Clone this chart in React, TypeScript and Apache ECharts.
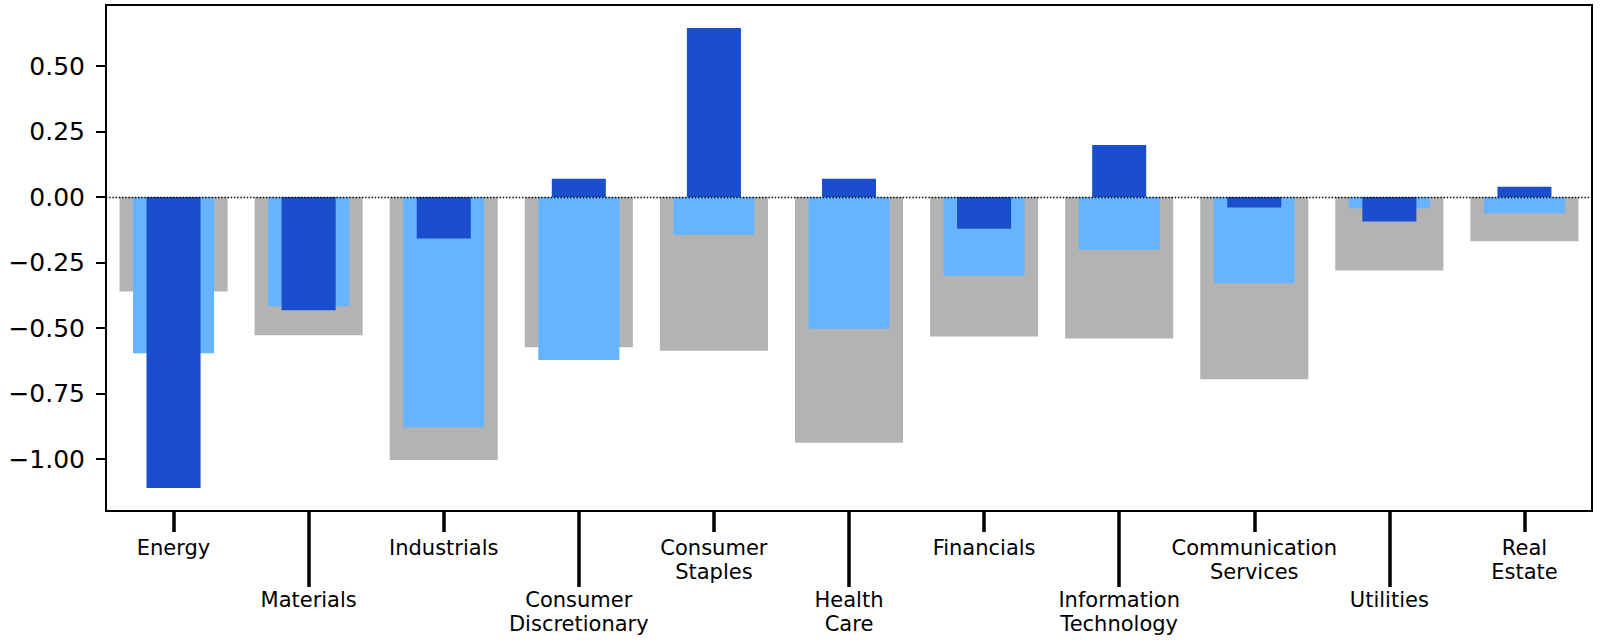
import React, { useEffect, useRef } from "react";
import * as echarts from "echarts";

// Sector labels (line breaks as printed under the axis)
const categories: string[] = [
  "Energy",
  "Materials",
  "Industrials",
  "Consumer\nDiscretionary",
  "Consumer\nStaples",
  "Health\nCare",
  "Financials",
  "Information\nTechnology",
  "Communication\nServices",
  "Utilities",
  "Real\nEstate",
];

// Wide grey bars
const greyValues: number[] = [-0.36, -0.527, -1.003, -0.573, -0.586, -0.937, -0.532, -0.54, -0.695, -0.28, -0.169];
// Medium light-blue bars
const lightValues: number[] = [-0.596, -0.417, -0.878, -0.622, -0.144, -0.502, -0.3, -0.201, -0.329, -0.043, -0.062];
// Narrow dark-blue bars
const darkValues: number[] = [-1.11, -0.432, -0.158, 0.07, 0.645, 0.07, -0.121, 0.199, -0.04, -0.093, 0.039];

// Y tick positions
const yTicks: number[] = [-1, -0.75, -0.5, -0.25, 0, 0.25, 0.5];

const FONT = "DejaVu Sans";

export default function App() {
  const ref = useRef<HTMLDivElement>(null);

  useEffect(() => {
    if (!ref.current) return;
    const chart = echarts.init(ref.current, undefined, { renderer: "svg" });

    const allVals = [...greyValues, ...lightValues, ...darkValues];
    const lo = Math.min(...allVals);
    const hi = Math.max(...allVals);
    const pad = (hi - lo) * 0.05;

    const baseAxis = () => ({
      type: "category" as const,
      gridIndex: 0,
      data: categories,
      boundaryGap: true,
      position: "bottom" as const,
      axisLine: { show: false, onZero: false },
      axisTick: { show: false },
      axisLabel: { show: false },
      splitLine: { show: false },
    });

    const labelStyle = {
      show: true,
      fontFamily: FONT,
      fontSize: 21,
      lineHeight: 24,
      color: "#000",
      verticalAlign: "top" as const,
    };

    const xAxes = [
      {
        ...baseAxis(),
        axisTick: {
          show: true,
          alignWithLabel: true,
          length: 21,
          interval: (i: number) => i % 2 === 0,
          lineStyle: { color: "#000", width: 3.5 },
        },
        axisLabel: { ...labelStyle, interval: (i: number) => i % 2 === 0, margin: 25 },
      },
      {
        ...baseAxis(),
        axisTick: {
          show: true,
          alignWithLabel: true,
          length: 76,
          interval: (i: number) => i % 2 === 1,
          lineStyle: { color: "#000", width: 3.5 },
        },
        axisLabel: { ...labelStyle, interval: (i: number) => i % 2 === 1, margin: 77 },
      },
      baseAxis(),
    ];

    chart.setOption({
      animation: false,
      backgroundColor: "#fff",
      grid: {
        left: 106,
        top: 5,
        right: 9,
        bottom: 132,
        show: true,
        borderColor: "#000",
        borderWidth: 2,
        backgroundColor: "transparent",
        containLabel: false,
      },
      xAxis: xAxes,
      yAxis: {
        type: "value",
        min: lo - pad,
        max: hi + pad,
        splitLine: { show: false },
        axisLine: { show: true, onZero: false, lineStyle: { color: "#000", width: 2 } },
        axisTick: {
          show: true,
          length: 10,
          lineStyle: { color: "#000", width: 2 },
          customValues: yTicks,
        },
        axisLabel: {
          customValues: yTicks,
          margin: 21,
          fontFamily: FONT,
          fontSize: 25,
          color: "#000",
          formatter: (v: number) => v.toFixed(2).replace("-", "\u2212"),
        },
      },
      series: [
        {
          type: "bar",
          xAxisIndex: 0,
          data: greyValues,
          barWidth: "80%",
          itemStyle: { color: "#b3b3b3" },
          z: 2,
        },
        {
          type: "bar",
          xAxisIndex: 1,
          data: lightValues,
          barWidth: "60%",
          itemStyle: { color: "#66b3ff" },
          z: 3,
        },
        {
          type: "bar",
          xAxisIndex: 2,
          data: darkValues,
          barWidth: "40%",
          itemStyle: { color: "#1b4ecc" },
          z: 4,
          markLine: {
            silent: true,
            symbol: "none",
            label: { show: false },
            z: 10,
            lineStyle: { color: "#000", width: 1.4, type: [1.4, 1.8] },
            data: [{ yAxis: 0 }],
          },
        },
      ],
    });

    return () => chart.dispose();
  }, []);

  return (
    <div
      ref={ref}
      style={{ position: "fixed", left: 0, top: 0, width: 1601, height: 643, background: "#fff" }}
    />
  );
}
